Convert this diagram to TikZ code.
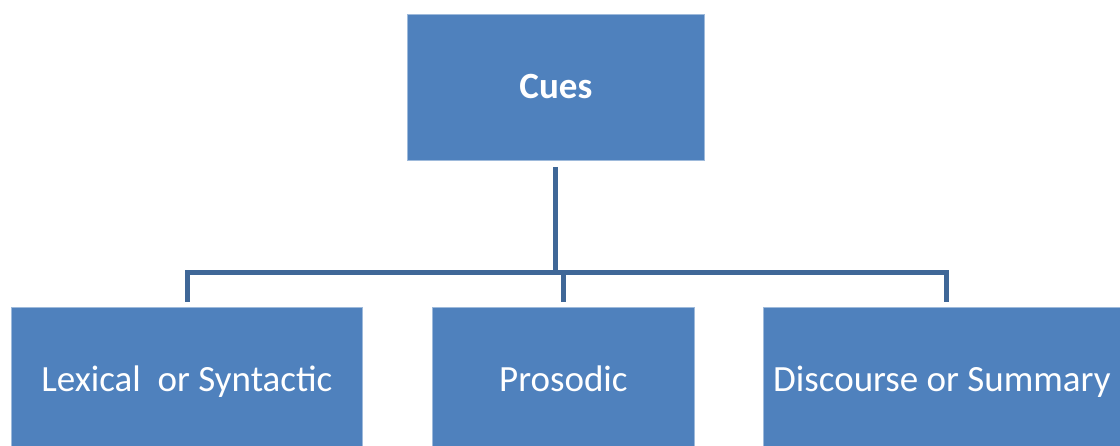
\documentclass[tikz,border=0pt]{standalone}
\usepackage{fontspec}
\setmainfont{Carlito}
\definecolor{boxblue}{HTML}{4F81BD}
\definecolor{linkblue}{HTML}{3F6797}
\begin{document}
\begin{tikzpicture}[x=1pt,y=-1pt,
  cuebox/.style={rectangle, fill=boxblue, draw=boxblue!55!white, line width=0.8pt,
    anchor=north west, inner sep=0pt, text=white, font=\fontsize{37}{40}\selectfont,
    text height=23pt, text depth=0pt},
  link/.style={draw=linkblue, line width=5pt}]
  \useasboundingbox (0,0) rectangle (1120,446);
  \clip (0,0) rectangle (1120,446);
  % top box
  \node[cuebox, minimum width=297pt, minimum height=146pt, font=\fontsize{37}{40}\selectfont\bfseries]
    (cues) at (407,14) {Cues};
  % child boxes
  \node[cuebox, minimum width=351pt, minimum height=146pt] (lex) at (11,307) {Lexical\ \ or Syntactic};
  \node[cuebox, minimum width=262pt, minimum height=146pt] (pro) at (432,307) {Prosodic};
  \node[cuebox, minimum width=357pt, minimum height=146pt] (dis) at (763,307) {Discourse or Summary};
  % connectors
  \coordinate (bus) at (555,273);
  \draw[link] ([yshift=-6pt]cues.south -| bus) -- (bus);
  \draw[link] ([yshift=5pt]lex.north -| 187,0) -- (187,273) -- (946.5,273) -- ([yshift=5pt]dis.north -| 946.5,0);
  \draw[link] (563,273) -- ([yshift=5pt]pro.north -| 563,0);
\end{tikzpicture}
\end{document}
